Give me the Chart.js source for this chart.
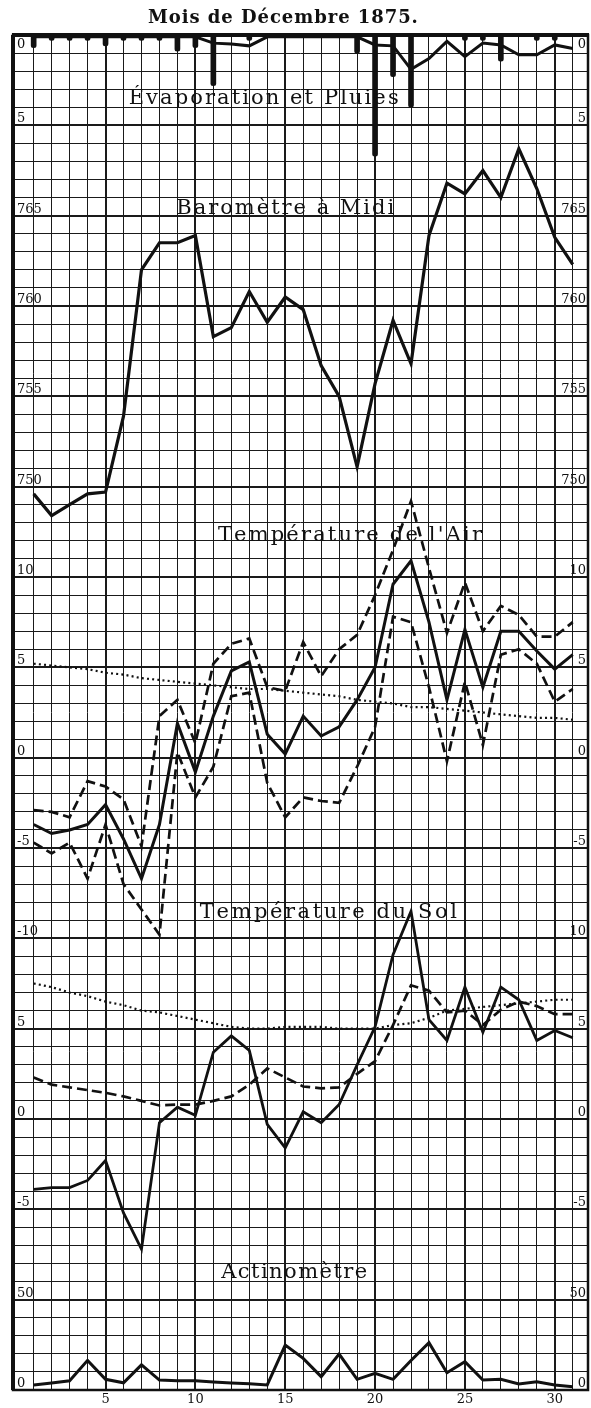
<!DOCTYPE html>
<html>
<head>
<meta charset="utf-8">
<script src="https://cdn.jsdelivr.net/npm/chart.js@4/dist/chart.umd.min.js"></script>
<style>
  html, body { margin: 0; padding: 0; background: #fff; }
  #wrap { position: relative; width: 591px; height: 1408px; }
</style>
</head>
<body>
<div id="wrap"><canvas id="releve"></canvas></div>
<script>
const days = [1,2,3,4,5,6,7,8,9,10,11,12,13,14,15,16,17,18,19,20,21,22,23,24,25,26,27,28,29,30,31];
const dayTicks = [5, 10, 15, 20, 25, 30];

// Évaporation (mm, ligne) et pluies (mm, barres)
const evaporation = [0.1,0.1,0.1,0.1,0.1,0.1,0.1,0.1,0.1,0.1,0.45,0.5,0.6,0.1,0.1,0.1,0.1,0.1,0.1,0.55,0.6,1.9,1.3,0.35,1.2,0.45,0.55,1.1,1.1,0.55,0.75];
const pluie = [0.7,0.3,0.3,0.3,0.6,0.3,0.3,0.3,0.9,0.7,2.8,null,0.3,null,null,null,null,null,1.0,6.7,2.3,4.0,null,null,0.3,0.3,1.45,null,0.3,0.3,null];

// Baromètre à midi (mm)
const barometre = [749.6,748.4,749.0,749.6,749.7,753.9,762.0,763.5,763.5,763.9,758.3,758.8,760.8,759.1,760.5,759.8,756.7,755.0,751.1,755.7,759.2,756.8,763.9,766.8,766.2,767.5,766.0,768.7,766.5,763.8,762.3];

// Température de l'air (°C)
const airMoy = [-3.7,-4.2,-4.0,-3.7,-2.6,-4.5,-6.7,-3.7,1.9,-0.8,2.3,4.8,5.3,1.3,0.2,2.3,1.2,1.7,3.2,5.0,9.6,10.9,7.5,3.2,7.1,3.9,7.0,7.0,5.9,4.9,5.7];
const airMax = [-2.9,-3.0,-3.3,-1.3,-1.6,-2.3,-4.9,2.3,3.2,0.8,5.2,6.3,6.6,3.9,3.7,6.4,4.5,6.0,6.8,9.0,11.5,14.2,10.5,6.9,9.7,7.0,8.4,7.9,6.7,6.7,7.5];
const airMin = [-4.7,-5.3,-4.7,-6.7,-3.7,-7.0,-8.4,-9.8,0.3,-2.2,-0.5,3.4,3.6,-1.4,-3.3,-2.2,-2.4,-2.5,-0.5,1.7,7.8,7.5,3.9,-0.2,4.2,0.7,5.7,6.0,5.2,3.1,3.8];
const airNormale = [5.2,5.1,5.0,4.9,4.7,4.6,4.4,4.3,4.2,4.1,4.0,3.9,3.8,3.8,3.7,3.6,3.5,3.4,3.2,3.1,3.0,2.8,2.8,2.7,2.6,2.5,2.4,2.3,2.2,2.2,2.1];

// Température du sol (°C)
const solSurface = [-3.9,-3.8,-3.8,-3.4,-2.3,-5.2,-7.2,-0.2,0.65,0.2,3.7,4.6,3.8,-0.3,-1.6,0.4,-0.2,0.8,3.0,5.1,9.1,11.5,5.5,4.35,7.3,4.8,7.3,6.6,4.35,4.9,4.5];
const solProfond = [2.3,1.9,1.75,1.6,1.45,1.25,1.0,0.75,0.8,0.8,1.0,1.25,1.9,2.8,2.3,1.8,1.7,1.75,2.5,3.2,5.2,7.4,7.1,5.9,6.0,5.2,6.05,6.5,6.25,5.8,5.8];
const solNormale = [7.5,7.3,7.0,6.8,6.5,6.3,6.0,5.9,5.7,5.5,5.3,5.1,5.0,5.0,5.1,5.1,5.1,5.0,5.0,5.0,5.2,5.3,5.6,6.0,6.1,6.2,6.3,6.4,6.5,6.6,6.6];

// Actinomètre
const actinometre = [2.8,3.9,5.1,16.4,5.9,4.0,13.9,5.5,5.1,5.1,4.4,3.9,3.5,2.8,24.9,17.5,7.4,19.9,5.9,9.2,5.9,16.3,26.2,9.6,15.7,5.5,5.9,3.3,4.6,2.8,1.8];

// Graduations écrites en marge (gauche / droite)
const evapLabels = [0, 5];
const baroLabels = [765, 760, 755, 750];
const airLabelsG = [10, 5, 0, -5, -10];
const airLabelsD = [10, 5, 0, -5];
const solLabelsG = [5, 0, -5];
const solLabelsD = [10, 5, 0, -5];
const actinoLabels = [50, 0];

// 75 lignes de quadrillage, une ligne forte toutes les 5
const ROWS = 75;

const INK = '#111';
const SERIF = "'DejaVu Serif', 'Liberation Serif', serif";

function pts(values) {
    return days.map((d, i) => ({x: d, y: values[i]}));
}

function ligne(values, axis, style) {
    return Object.assign({
        type: 'line',
        data: pts(values),
        yAxisID: axis,
        borderColor: INK,
        borderWidth: 3,
        pointRadius: 0,
        tension: 0,
        fill: false
    }, style || {});
}

const DASH = {borderWidth: 2.7, borderDash: [10, 5]};
const DOTS = {borderWidth: 2.2, borderDash: [2, 3.2]};

// draws text letter by letter, spread to a given width
function spaced(ctx, text, cx, cy, width, font) {
    ctx.font = font;
    const chars = Array.from(text);
    const w = chars.reduce((s, c) => s + ctx.measureText(c).width, 0);
    const gap = chars.length > 1 ? (width - w) / (chars.length - 1) : 0;
    let x = cx - width / 2;
    ctx.textAlign = 'left';
    ctx.textBaseline = 'middle';
    chars.forEach(c => {
        ctx.fillText(c, x, cy);
        x += ctx.measureText(c).width + gap;
    });
}

const panelTitles = [
    {text: 'Évaporation et Pluies', axis: 'yEvap', day: 13.8, value: 3.5, width: 270},
    {text: 'Baromètre à Midi', axis: 'yBaro', day: 15.0, value: 765.4, width: 218},
    {text: 'Température de l\'Air', axis: 'yAir', day: 18.6, value: 12.3, width: 264},
    {text: 'Température du Sol', axis: 'ySol', day: 17.4, value: 11.4, width: 257},
    {text: 'Actinomètre', axis: 'yAct', day: 15.5, value: 65, width: 146}
];

const marges = [
    ['yEvap', evapLabels, evapLabels],
    ['yBaro', baroLabels, baroLabels],
    ['yAir', airLabelsG, airLabelsD],
    ['ySol', solLabelsG, solLabelsD],
    ['yAct', actinoLabels, actinoLabels]
];

const habillage = {
    id: 'habillage',
    afterDatasetsDraw(chart) {
        const {ctx, chartArea: a, scales} = chart;
        ctx.save();
        ctx.fillStyle = INK;
        ctx.strokeStyle = INK;

        // cadre
        ctx.lineWidth = 2.5;
        ctx.strokeRect(a.left, a.top, a.right - a.left, a.bottom - a.top);
        ctx.lineWidth = 4;
        ctx.beginPath();
        ctx.moveTo(a.left - 1, a.top);
        ctx.lineTo(a.right + 1, a.top);
        ctx.moveTo(a.left, a.top);
        ctx.lineTo(a.left, a.bottom);
        ctx.stroke();

        // graduations en marge
        ctx.font = '13px ' + SERIF;
        ctx.textBaseline = 'alphabetic';
        marges.forEach(([id, gauche, droite]) => {
            const s = scales[id];
            const place = v => {
                const y = s.getPixelForValue(v);
                return (y - a.top < 4) ? y + 13 : y - 3;
            };
            ctx.textAlign = 'left';
            gauche.forEach(v => ctx.fillText(String(v), a.left + 4, place(v)));
            ctx.textAlign = 'right';
            droite.forEach(v => ctx.fillText(String(v), a.right - 2, place(v)));
        });

        // titres des panneaux
        panelTitles.forEach(t => {
            spaced(ctx, t.text, scales.x.getPixelForValue(t.day),
                scales[t.axis].getPixelForValue(t.value), t.width, '21px ' + SERIF);
        });

        // titre général
        spaced(ctx, 'Mois de Décembre 1875.', scales.x.getPixelForValue(14.87), 18, 270,
            'bold 18px ' + SERIF);
        ctx.restore();
    }
};

const rainBars = days.map((d, i) => ({x: d, y: pluie[i]})).filter(p => p.y !== null);

new Chart(document.getElementById('releve'), {
    type: 'line',
    data: {
        datasets: [
            {
                type: 'bar',
                data: rainBars,
                yAxisID: 'yEvap',
                backgroundColor: INK,
                barThickness: 5,
                borderRadius: 3,
                borderSkipped: 'start'
            },
            ligne(evaporation, 'yEvap', {borderWidth: 3}),
            ligne(barometre, 'yBaro', {borderWidth: 3.2}),
            ligne(airNormale, 'yAir', DOTS),
            ligne(airMax, 'yAir', DASH),
            ligne(airMin, 'yAir', DASH),
            ligne(airMoy, 'yAir', {borderWidth: 3}),
            ligne(solNormale, 'ySol', DOTS),
            ligne(solProfond, 'ySol', DASH),
            ligne(solSurface, 'ySol', {borderWidth: 2.8}),
            ligne(actinometre, 'yAct', {borderWidth: 3})
        ]
    },
    options: {
        responsive: true,
        maintainAspectRatio: false,
        animation: false,
        devicePixelRatio: 1,
        layout: {padding: {left: 13, right: 3, top: 35, bottom: 0}},
        plugins: {
            legend: {display: false},
            tooltip: {enabled: false},
            title: {display: false}
        },
        scales: {
            x: {
                type: 'linear',
                min: -0.15,
                max: 31.85,
                offset: false,
                afterBuildTicks: s => { s.ticks = days.map(d => ({value: d})); },
                afterFit: s => { s.height = 18; },
                border: {display: false},
                grid: {
                    offset: false,
                    drawTicks: false,
                    color: '#1a1a1a',
                    lineWidth: c => (c.tick && dayTicks.includes(c.tick.value)) ? 2 : 1
                },
                ticks: {
                    autoSkip: false,
                    maxRotation: 0,
                    padding: 2,
                    color: INK,
                    font: {family: SERIF, size: 13},
                    callback: v => dayTicks.includes(v) ? String(v) : ''
                }
            },
            g: {
                type: 'linear',
                position: 'left',
                reverse: true,
                min: 0,
                max: ROWS,
                afterBuildTicks: s => {
                    const t = [];
                    for (let r = 0; r <= ROWS; r++) t.push({value: r});
                    s.ticks = t;
                },
                border: {display: false},
                grid: {
                    drawTicks: false,
                    color: '#1a1a1a',
                    lineWidth: c => (c.tick && c.tick.value % 5 === 0) ? 2 : 1
                },
                ticks: {display: false}
            },
            // une échelle par panneau, toutes calées sur le même quadrillage
            yEvap: {type: 'linear', display: false, reverse: true, min: 0, max: 75},
            yBaro: {type: 'linear', display: false, min: 700, max: 775},
            yAir: {type: 'linear', display: false, min: -35, max: 40},
            ySol: {type: 'linear', display: false, min: -15, max: 60},
            yAct: {type: 'linear', display: false, min: 0, max: 750}
        }
    },
    plugins: [habillage]
});
</script>
</body>
</html>
